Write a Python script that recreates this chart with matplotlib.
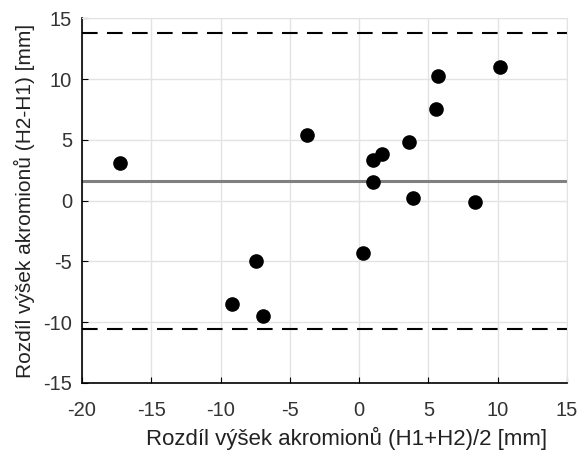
import numpy as np
import matplotlib.pyplot as plt

plt.rcParams['font.family'] = ['Liberation Sans', 'DejaVu Sans']
plt.rcParams['axes.unicode_minus'] = False

# Data (Bland-Altman)
mean_h = [-17.24, -3.79, 0.97, 1.62, 0.97, 3.59, 5.66, 5.52, 10.16, 3.88, 8.35, 0.30, -7.47, -9.20, -6.96]
diff_h = [3.07, 5.38, 3.38, 3.87, 1.56, 4.86, 10.30, 7.58, 10.99, 0.24, -0.14, -4.27, -4.98, -8.47, -9.49]
bias = 1.6
upper_loa = 13.8
lower_loa = -10.6

x_ticks = [-20, -15, -10, -5, 0, 5, 10, 15]
y_ticks = [-15, -10, -5, 0, 5, 10, 15]

fig = plt.figure(figsize=(5.81, 4.5), dpi=100)
ax = fig.add_axes([0.141, 0.149, 0.835, 0.81])

ax.grid(True, color='#e3e3e3', linewidth=1)
ax.set_axisbelow(True)

ax.axhline(bias, color='#808080', linewidth=2.2)
ax.axhline(upper_loa, color='black', linewidth=1.5, linestyle=(0, (7.5, 4.5)))
ax.axhline(lower_loa, color='black', linewidth=1.5, linestyle=(0, (7.5, 4.5)))
ax.plot(mean_h, diff_h, 'o', color='black', markersize=9.5, linestyle='none')

ax.set_xlim(-20, 15)
ax.set_ylim(-15, 15)
ax.set_xticks(x_ticks)
ax.set_yticks(y_ticks)
ax.tick_params(direction='in', length=4, labelsize=14.5, colors='black', top=False, right=False)
ax.tick_params(axis='x', pad=13)
ax.tick_params(axis='y', pad=7)
for lab in ax.get_xticklabels() + ax.get_yticklabels():
    lab.set_color('#333333')

for s in ['top', 'right']:
    ax.spines[s].set_color('#e3e3e3')
for s in ['left', 'bottom']:
    ax.spines[s].set_color('black')
    ax.spines[s].set_linewidth(1.2)

ax.set_xlabel('Rozdíl výšek akromionů (H1+H2)/2 [mm]', fontsize=16, color='#222222')
ax.xaxis.set_label_coords(0.546, -0.152, transform=ax.transAxes)
ax.xaxis.label.set_va('center')
ax.set_ylabel('Rozdíl výšek akromionů (H2-H1) [mm]', fontsize=15, color='#222222', labelpad=6)

fig.savefig('out.png', dpi=100)
